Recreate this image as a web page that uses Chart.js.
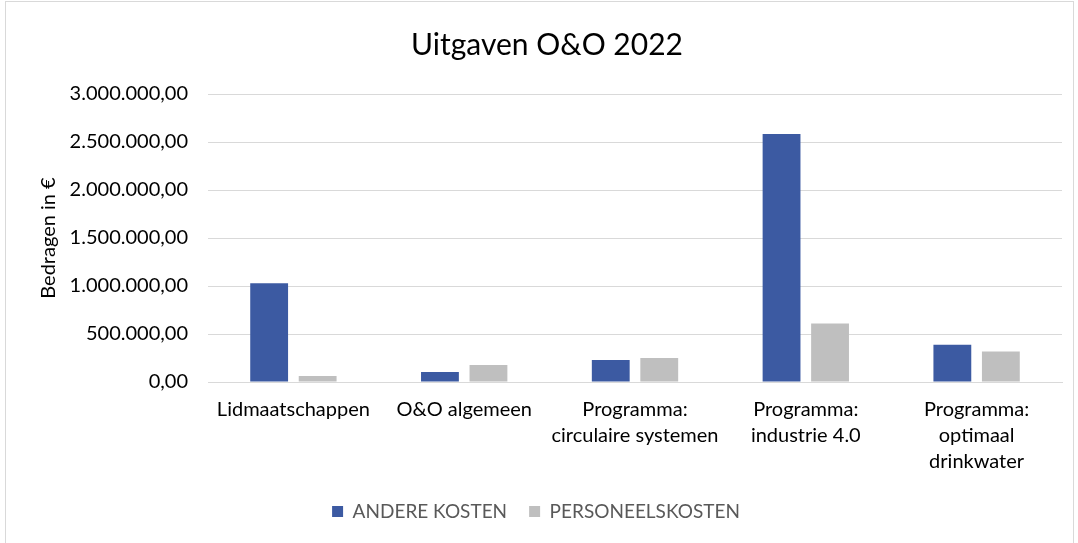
<!DOCTYPE html>
<html>
<head>
<meta charset="utf-8">
<script src="https://cdn.jsdelivr.net/npm/chart.js@4"></script>
<style>
  body { margin: 0; background: #fff; }
  canvas { display: block; }
</style>
</head>
<body>
<canvas id="chart" width="1078" height="543"></canvas>
<script>
// categories and series
const categories = [
    'Lidmaatschappen',
    'O&O algemeen',
    ['Programma:', 'circulaire systemen'],
    ['Programma:', 'industrie 4.0'],
    ['Programma:', 'optimaal', 'drinkwater']
]
const andereKosten = [1028000, 104000, 229000, 2583000, 389000]
const personeelskosten = [62000, 177000, 250000, 610000, 319000]
const yTicks = [0, 500000, 1000000, 1500000, 2000000, 2500000, 3000000]

// Dutch number format: 1.000.000,00
function formatNl(v) {
    const parts = Number(v).toFixed(2).split('.')
    const int = parts[0].replace(/\B(?=(\d{3})+(?!\d))/g, '.')
    return int + ',' + parts[1]
}

// white background + light border round the chart,
// and centre the title on the whole frame instead of the padded area
const frame = {
    id: 'frame',
    afterLayout(chart) {
        if (chart.titleBlock) {
            chart.titleBlock.left += 11
            chart.titleBlock.right += 11
        }
    },
    beforeDraw(chart) {
        const ctx = chart.ctx
        ctx.save()
        ctx.fillStyle = '#fff'
        ctx.fillRect(0, 0, chart.width, chart.height)
        ctx.strokeStyle = '#d9d9d9'
        ctx.lineWidth = 1
        ctx.strokeRect(5.5, 1.5, 1068, 600)
        ctx.restore()
    }
}

const fontFamily = 'Lato, "Open Sans", sans-serif'

new Chart(document.getElementById('chart'), {
    type: 'bar',
    data: {
        labels: categories,
        datasets: [{
            label: 'ANDERE KOSTEN',
            data: andereKosten,
            backgroundColor: '#3c5aa2'
        }, {
            label: 'PERSONEELSKOSTEN',
            data: personeelskosten,
            backgroundColor: '#bfbfbf'
        }]
    },
    options: {
        responsive: false,
        devicePixelRatio: 1,
        animation: false,
        categoryPercentage: 0.568,
        barPercentage: 0.78,
        layout: {
            padding: { left: 10, right: 16, top: 0, bottom: 12 }
        },
        plugins: {
            title: {
                display: true,
                text: 'Uitgaven O&O 2022',
                color: '#000',
                font: { family: fontFamily, size: 30, weight: 'normal' },
                padding: { top: 27, bottom: 31 }
            },
            legend: {
                position: 'bottom',
                labels: {
                    color: '#595959',
                    boxWidth: 11,
                    boxHeight: 11,
                    padding: 22,
                    font: { family: fontFamily, size: 19 }
                }
            },
            tooltip: { enabled: false }
        },
        scales: {
            x: {
                grid: { display: false, drawTicks: false },
                border: { color: '#d9d9d9' },
                ticks: {
                    color: '#000',
                    maxRotation: 0,
                    autoSkip: false,
                    padding: 15,
                    font: { family: fontFamily, size: 20, lineHeight: 1.3 }
                },
                afterFit(scale) { scale.height = 98 }
            },
            y: {
                min: 0,
                max: 3000000,
                afterBuildTicks(scale) {
                    scale.ticks = yTicks.map(v => ({ value: v }))
                },
                grid: { color: '#d9d9d9', drawTicks: false },
                border: { display: false },
                ticks: {
                    color: '#000',
                    padding: 20,
                    font: { family: fontFamily, size: 20 },
                    callback: v => formatNl(v)
                },
                title: {
                    display: true,
                    text: 'Bedragen in €',
                    color: '#000',
                    font: { family: fontFamily, size: 20 },
                    padding: { top: 27, bottom: 0 }
                },
                afterFit(scale) { scale.width = 198 }
            }
        }
    },
    plugins: [frame]
})
</script>
</body>
</html>
